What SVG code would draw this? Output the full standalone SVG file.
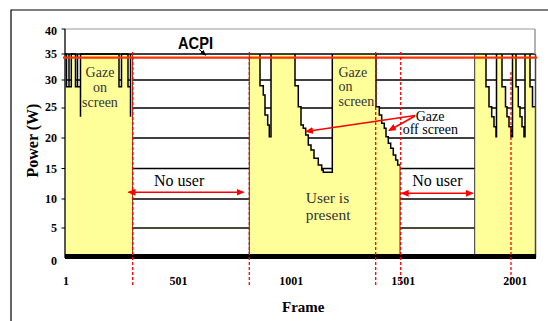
<svg xmlns="http://www.w3.org/2000/svg" width="548" height="321" viewBox="0 0 548 321">
<style>
.grid{stroke:#000;stroke-width:1.3;fill:none}
.yel{fill:#ffff99;stroke:none}
.trace{fill:none;stroke:#000;stroke-width:1.5;stroke-linejoin:miter}
.edge{stroke:#333;stroke-width:1}
.rdash{stroke:#ff0000;stroke-width:1.3;stroke-dasharray:3,2;fill:none}
.tick{font-family:"Liberation Serif",serif;font-weight:bold;font-size:12px;fill:#000}
.lbl{font-family:"Liberation Serif",serif;font-size:16px;fill:#333}
.gz{font-family:"Liberation Serif",serif;font-size:14px;fill:#333}
.red{stroke:#ff0000;stroke-width:1.5;fill:none}
</style>
<defs>
<marker id="ra" markerUnits="userSpaceOnUse" markerWidth="8" markerHeight="7" refX="7" refY="3.5" orient="auto-start-reverse"><path d="M0,0 L8,3.5 L0,7 Z" fill="#ff0000"/></marker>
<marker id="ba" markerUnits="userSpaceOnUse" markerWidth="6" markerHeight="5" refX="5" refY="2.5" orient="auto"><path d="M0,0 L6,2.5 L0,5 Z" fill="#000"/></marker>
</defs>
<rect x="0" y="0" width="548" height="321" fill="#fff"/>
<path d="M11,321 L11,10 L548,10" fill="none" stroke="#000" stroke-width="1.2"/>
<g id="plot">
<rect x="65" y="29" width="470" height="228" fill="#fff"/>
<g id="gridlines">
<line class="grid" x1="65" y1="80" x2="535" y2="80"/>
<line class="grid" x1="65" y1="108" x2="535" y2="108"/>
<line class="grid" x1="65" y1="138" x2="535" y2="138"/>
<line class="grid" x1="65" y1="168.5" x2="535" y2="168.5" stroke="#222"/>
<line class="grid" x1="65" y1="199" x2="535" y2="199"/>
<line x1="65" y1="228" x2="535" y2="228" stroke="#4a4a3a" stroke-width="2"/>
</g>
<g id="regions">
<path class="yel" d="M65,254 L65,54 L66.5,54 L66.5,86.7 L69,86.7 L69,54 L69,86.7 L71.3,86.7 L71.3,54 L75.5,54 L75.5,86.7 L77.5,86.7 L77.5,54 L77.5,86.7 L80.5,86.7 L80.5,116.7 L80.5,54 L119,54 L119,86.7 L121.5,86.7 L121.5,54 L128,54 L128,86.7 L130.5,86.7 L130.5,116.7 L130.5,54 L132.7,54 L132.7,254 Z"/>
<path class="yel" d="M249.3,254 L249.3,54 L260,54 L260,85.7 L263.3,85.7 L263.3,95 L265,95 L265,115 L267.7,115 L267.7,125 L269.3,125 L269.3,136.7 L271,136.7 L271,54 L295,54 L295,85.7 L298.3,85.7 L298.3,106.7 L301,106.7 L301,125 L303.3,125 L303.3,128.3 L305.7,128.3 L305.7,135 L308.3,135 L308.3,145 L311,145 L311,150 L314,150 L314,158.3 L318.3,158.3 L318.3,165 L321.7,165 L321.7,170 L323.3,170 L323.3,172.3 L332.3,172.3 L332.3,54 L376,54 L376,106.7 L379.3,106.7 L379.3,115 L381.7,115 L381.7,123.3 L384.3,123.3 L384.3,128.3 L386,128.3 L386,136.7 L388.3,136.7 L388.3,143.3 L390.7,143.3 L390.7,148.3 L393.3,148.3 L393.3,155 L395.7,155 L395.7,160 L397.7,160 L397.7,165 L400,165 L400,254 Z"/>
<path class="yel" d="M474.7,254 L474.7,54 L486,54 L486,86.7 L489,86.7 L489,106.7 L491.7,106.7 L491.7,116.7 L494,116.7 L494,126.7 L496,126.7 L496,136.7 L496.5,136.7 L496.5,54 L502,54 L502,86.7 L505.5,86.7 L505.5,106.7 L507,106.7 L507,116.7 L509,116.7 L509,126.7 L511,126.7 L511,136.7 L512.5,136.7 L512.5,54 L516,54 L516,86.7 L518.3,86.7 L518.3,106.7 L520,106.7 L520,116.7 L522,116.7 L522,126.7 L524,126.7 L524,136.7 L525,136.7 L525,54 L530,54 L530,86.7 L532.5,86.7 L532.5,106.7 L535,106.7 L535,254 Z"/>
</g>
<g id="trace">
<line x1="65" y1="54" x2="535" y2="54" stroke="#000" stroke-width="1.4"/>
<path class="trace" d="M65,54 L66.5,54 L66.5,86.7 L69,86.7 L69,54 L69,86.7 L71.3,86.7 L71.3,54 L75.5,54 L75.5,86.7 L77.5,86.7 L77.5,54 L77.5,86.7 L80.5,86.7 L80.5,116.7 L80.5,54 L119,54 L119,86.7 L121.5,86.7 L121.5,54 L128,54 L128,86.7 L130.5,86.7 L130.5,116.7 L130.5,54"/>
<path class="trace" d="M260,54 L260,85.7 L263.3,85.7 L263.3,95 L265,95 L265,115 L267.7,115 L267.7,125 L269.3,125 L269.3,136.7 L271,136.7 L271,54 M295,54 L295,85.7 L298.3,85.7 L298.3,106.7 L301,106.7 L301,125 L303.3,125 L303.3,128.3 L305.7,128.3 L305.7,135 L308.3,135 L308.3,145 L311,145 L311,150 L314,150 L314,158.3 L318.3,158.3 L318.3,165 L321.7,165 L321.7,170 L323.3,170 L323.3,172.3 L332.3,172.3 L332.3,54 M376,54 L376,106.7 L379.3,106.7 L379.3,115 L381.7,115 L381.7,123.3 L384.3,123.3 L384.3,128.3 L386,128.3 L386,136.7 L388.3,136.7 L388.3,143.3 L390.7,143.3 L390.7,148.3 L393.3,148.3 L393.3,155 L395.7,155 L395.7,160 L397.7,160 L397.7,165 L400,165"/>
<path class="trace" d="M486,54 L486,86.7 L489,86.7 L489,106.7 L491.7,106.7 L491.7,116.7 L494,116.7 L494,126.7 L496,126.7 L496,136.7 L496.5,136.7 L496.5,54 M502,54 L502,86.7 L505.5,86.7 L505.5,106.7 L507,106.7 L507,116.7 L509,116.7 L509,126.7 L511,126.7 L511,136.7 L512.5,136.7 L512.5,54 M516,54 L516,86.7 L518.3,86.7 L518.3,106.7 L520,106.7 L520,116.7 L522,116.7 L522,126.7 L524,126.7 L524,136.7 L525,136.7 L525,54 M530,54 L530,86.7 L532.5,86.7 L532.5,106.7 L535,106.7"/>
<line class="edge" x1="132.7" y1="54" x2="132.7" y2="254"/>
<line class="edge" x1="249.3" y1="54" x2="249.3" y2="254"/>
<line class="edge" x1="400" y1="165" x2="400" y2="254"/>
<line class="edge" x1="474.7" y1="54" x2="474.7" y2="254"/>
</g>
<line x1="65" y1="29" x2="535" y2="29" stroke="#999" stroke-width="1.2"/>
<line x1="535" y1="29" x2="535" y2="54" stroke="#999" stroke-width="1.5"/>
<line x1="535.5" y1="54" x2="535.5" y2="258" stroke="#444" stroke-width="1.5"/>
<line x1="65" y1="29" x2="65" y2="258" stroke="#000" stroke-width="1.3"/>
<rect x="65" y="254" width="471" height="5" fill="#000"/>
<line x1="63" y1="57.7" x2="537" y2="57.7" stroke="#ff3300" stroke-width="2.2"/>
</g>
<g id="markers-v">
<line class="rdash" x1="132.7" y1="52" x2="132.7" y2="285"/>
<line class="rdash" x1="249.3" y1="52" x2="249.3" y2="285"/>
<line class="rdash" x1="375.7" y1="52" x2="375.7" y2="285"/>
<line class="rdash" x1="400.7" y1="52" x2="400.7" y2="285"/>
<line class="rdash" x1="511" y1="72" x2="511" y2="287"/>
</g>
<g id="y-axis">
<g stroke="#000" stroke-width="1">
<line x1="61.5" y1="29" x2="65" y2="29"/><line x1="61.5" y1="54" x2="65" y2="54"/><line x1="61.5" y1="80" x2="65" y2="80"/><line x1="61.5" y1="108" x2="65" y2="108"/><line x1="61.5" y1="138" x2="65" y2="138"/><line x1="61.5" y1="168.5" x2="65" y2="168.5"/><line x1="61.5" y1="199" x2="65" y2="199"/><line x1="61.5" y1="228" x2="65" y2="228"/>
</g>
<g class="tick" text-anchor="end">
<text x="57" y="35">40</text>
<text x="57" y="57.5">35</text>
<text x="57" y="83.5">30</text>
<text x="57" y="111">25</text>
<text x="57" y="142">20</text>
<text x="57" y="172.5">15</text>
<text x="57" y="202.5">10</text>
<text x="57" y="231.5">5</text>
<text x="57" y="265">0</text>
</g>
<text transform="translate(37.5,140.5) rotate(-90)" text-anchor="middle" font-family="Liberation Serif,serif" font-weight="bold" font-size="16">Power (W)</text>
</g>
<g id="x-axis" class="tick" text-anchor="middle">
<text x="66" y="284.5">1</text>
<text x="178.5" y="284.5">501</text>
<text x="291.3" y="284.5">1001</text>
<text x="403.3" y="284.5">1501</text>
<text x="515.3" y="284.5">2001</text>
<text x="303.3" y="311.5" font-size="15">Frame</text>
</g>
<g id="label-acpi">
<text x="178" y="48.5" font-family="Liberation Sans,Arial,sans-serif" font-weight="bold" font-size="17" textLength="35" lengthAdjust="spacingAndGlyphs">ACPI</text>
</g>
<g id="label-gaze-on-1" class="gz" text-anchor="middle">
<text x="100" y="76.5">Gaze</text>
<text x="100" y="91.5">on</text>
<text x="100" y="106.5">screen</text>
</g>
<g id="label-gaze-on-2" class="gz">
<text x="338.5" y="76.5">Gaze</text>
<text x="338.5" y="91">on</text>
<text x="338.5" y="105.5">screen</text>
</g>
<g id="label-gaze-off" class="gz" style="fill:#000">
<text x="415.7" y="120.5">Gaze</text>
<text x="402.7" y="134">off screen</text>
</g>
<g id="label-no-user-1" class="lbl" style="fill:#000">
<text x="154" y="186">No user</text>
</g>
<g id="label-no-user-2" class="lbl" style="fill:#000">
<text x="412.3" y="186">No user</text>
</g>
<g id="label-user-present" class="lbl" style="font-size:15.5px">
<text x="305.7" y="202.5">User is</text>
<text x="305.7" y="219.7">present</text>
</g>
<g id="connectors">
<line x1="199" y1="49.3" x2="205.5" y2="55" stroke="#000" stroke-width="1" marker-end="url(#ba)"/>
<line class="red" x1="415" y1="115.5" x2="306" y2="131.5" marker-end="url(#ra)"/>
<line class="red" x1="415" y1="116" x2="389" y2="130.5" marker-end="url(#ra)"/>
<line class="red" x1="128.5" y1="192.3" x2="243.5" y2="192.3" marker-start="url(#ra)" marker-end="url(#ra)"/>
<line class="red" x1="401.7" y1="193.3" x2="472.7" y2="193.3" marker-start="url(#ra)" marker-end="url(#ra)"/>
</g>
</svg>
